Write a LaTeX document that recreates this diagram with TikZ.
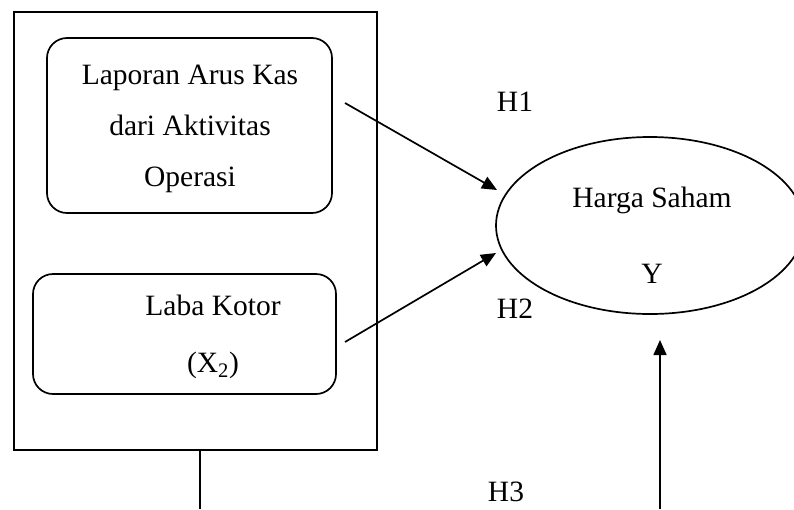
\documentclass[tikz,border=0pt]{standalone}
\usepackage{fontspec}
\setmainfont{Liberation Serif}
\usetikzlibrary{arrows.meta}
\usetikzlibrary{shapes.geometric}

\begin{document}
\begin{tikzpicture}[x=1pt,y=-1pt,line width=1.7pt,
		font=\fontsize{29.5}{35}\selectfont,
		box/.style={draw,rounded corners=20pt,inner sep=0pt},
		arr/.style={-{Triangle[length=15pt,width=13pt]}}]

		\useasboundingbox (0,0) rectangle (794,509);

		\coordinate (A) at (345,103) ;
		\coordinate (B) at (497,190) ;
		\coordinate (C) at (345,342) ;
		\coordinate (D) at (496,253) ;
		\coordinate (E) at (660,509) ;
		\coordinate (F) at (660,340) ;
		\coordinate (L) at (200,509) ;

		\node (frame) [draw,inner sep=0pt,minimum width=363pt,minimum height=438pt] at (195.5,231) {};
		\node (kas) [box,minimum width=285pt,minimum height=175pt] at (189.5,125.5) {};
		\node (kastext) [align=center] at (190,128.5)
			{Laporan Arus Kas\\[16pt]dari Aktivitas\\[16pt]Operasi};
		\node (laba) [box,minimum width=303pt,minimum height=120pt] at (184.5,334) {};
		\node (labatext) [align=center] at (213,337) {Laba Kotor\\[22pt](X\textsubscript{2})};
		\node (harga) [draw,ellipse,inner sep=0pt,minimum width=308pt,minimum height=177pt] at (650,225.5) {};
		\node (hargatext) [align=center] at (652,235.5) {Harga Saham\\[41pt]Y};

		\draw (515,102) node (h1) {H1};
		\draw (515,309) node (h2) {H2};
		\draw (506,491.5) node (h3) {H3};

		\draw [arr] (A) -- (B);
		\draw [arr] (C) -- (D);
		\draw [arr] (E) -- (F);
		\draw (L |- frame.south) -- (L);

\end{tikzpicture}
\end{document}
